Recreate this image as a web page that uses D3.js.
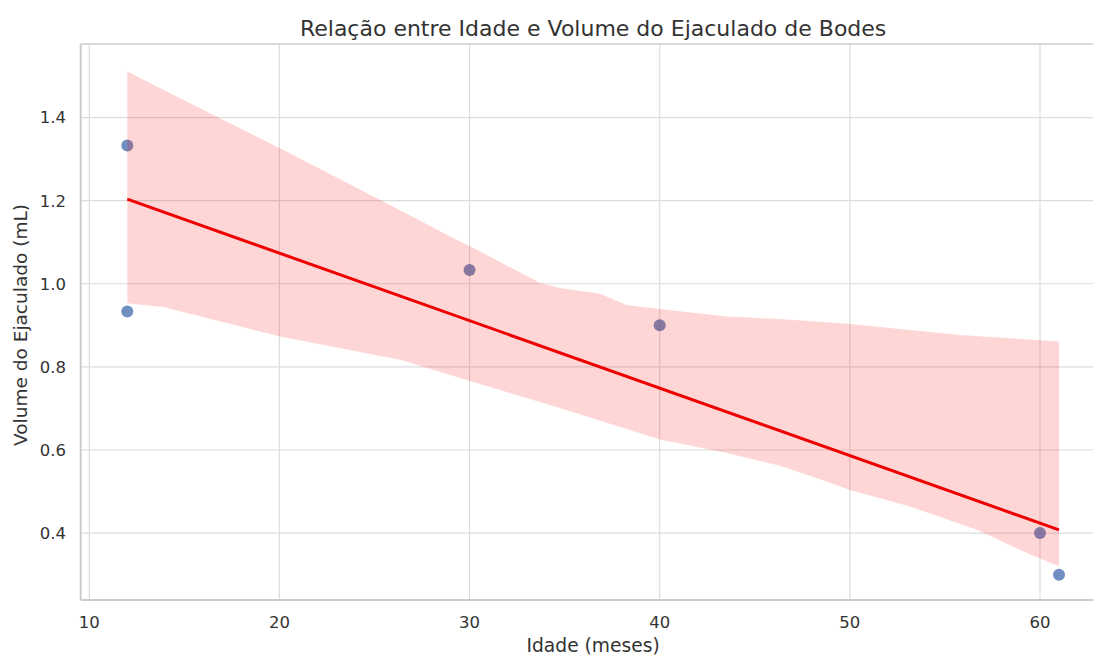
<!DOCTYPE html>
<html>
<head>
<meta charset="utf-8">
<script src="https://cdn.jsdelivr.net/npm/d3@7"></script>
<style>
  html, body { margin: 0; padding: 0; background: #ffffff; }
  svg { display: block; font-family: "DejaVu Sans", sans-serif; }
</style>
</head>
<body>
<svg id="chart" width="1093" height="655"></svg>
<script>
// ---- data ----
const ageMonths = [12, 12, 30, 40, 60, 61];
const volumeML = [1.333, 0.933, 1.033, 0.9, 0.4, 0.3];

// confidence band
const bandUpperX = [12, 14.94, 20.03, 25.46, 29.5, 30.55, 33.7, 34.75, 36.86, 38.26, 40.01, 43.52, 46.33, 50.01, 55.79, 61];
const bandUpperY = [1.511, 1.443, 1.326, 1.198, 1.102, 1.078, 1.002, 0.990, 0.976, 0.949, 0.939, 0.921, 0.915, 0.903, 0.877, 0.861];
const bandLowerX = [12, 13.89, 20.03, 26.34, 29.5, 34.75, 40.01, 43.52, 46.33, 47.9, 50.01, 53.16, 56.67, 59.3, 61];
const bandLowerY = [0.953, 0.944, 0.873, 0.817, 0.773, 0.701, 0.625, 0.593, 0.562, 0.538, 0.504, 0.464, 0.408, 0.352, 0.320];

const xTicks = [10, 20, 30, 40, 50, 60];
const yTicks = [0.4, 0.6, 0.8, 1.0, 1.2, 1.4];

const titleText = "Relação entre Idade e Volume do Ejaculado de Bodes";
const xLabelText = "Idade (meses)";
const yLabelText = "Volume do Ejaculado (mL)";

(function () {
// ---- layout ----
const svg = d3.select("#chart");
const pL = 80.7, pR = 1105.6, pT = 44, pB = 600;

const x = d3.scaleLinear().domain([9.55, 63.45]).range([pL, pR]);
const y = d3.scaleLinear().domain([0.239, 1.577]).range([pB, pT]);

const textColor = "#333333";

// grid
const grid = svg.append("g");
grid.selectAll("line.vx").data(xTicks).enter().append("line")
  .attr("x1", d => x(d)).attr("x2", d => x(d))
  .attr("y1", pT).attr("y2", pB)
  .attr("stroke", "#dcdcdc").attr("stroke-width", 1.2);
grid.selectAll("line.hy").data(yTicks).enter().append("line")
  .attr("x1", pL).attr("x2", pR)
  .attr("y1", d => y(d)).attr("y2", d => y(d))
  .attr("stroke", "#dcdcdc").attr("stroke-width", 1.2);

// points
const pts = ageMonths.map((a, i) => [a, volumeML[i]]);
svg.append("g").selectAll("circle").data(pts).enter().append("circle")
  .attr("cx", d => x(d[0])).attr("cy", d => y(d[1])).attr("r", 6)
  .attr("fill", "#4c72b0").attr("fill-opacity", 0.8);

// band
const upper = bandUpperX.map((v, i) => [v, bandUpperY[i]]);
const lower = bandLowerX.map((v, i) => [v, bandLowerY[i]]);
const poly = upper.concat(lower.slice().reverse());
svg.append("path")
  .attr("d", d3.line().x(d => x(d[0])).y(d => y(d[1]))(poly) + "Z")
  .attr("fill", "#ff0000").attr("fill-opacity", 0.16).attr("stroke", "none");

// regression line (least squares fit of the points)
const mx = d3.mean(ageMonths), my = d3.mean(volumeML);
const sxy = d3.sum(ageMonths.map((a, i) => (a - mx) * (volumeML[i] - my)));
const sxx = d3.sum(ageMonths.map(a => (a - mx) * (a - mx)));
const slope = sxy / sxx, icpt = my - slope * mx;
const xr = d3.extent(ageMonths);
svg.append("path")
  .attr("d", d3.line().x(d => x(d)).y(d => y(icpt + slope * d))(xr))
  .attr("stroke", "#ee0000").attr("stroke-width", 3).attr("fill", "none")
  .attr("stroke-linecap", "butt");

// spines
svg.append("line").attr("x1", pL).attr("x2", pR).attr("y1", pT).attr("y2", pT)
  .attr("stroke", "#cccccc").attr("stroke-width", 1.5);
svg.append("line").attr("x1", pL).attr("x2", pL).attr("y1", pT).attr("y2", pB)
  .attr("stroke", "#cccccc").attr("stroke-width", 2);
svg.append("line").attr("x1", pL).attr("x2", pR).attr("y1", pB).attr("y2", pB)
  .attr("stroke", "#cccccc").attr("stroke-width", 2);

// x tick labels
const fmtX = d3.format("d");
svg.append("g").selectAll("text").data(xTicks).enter().append("text")
  .attr("x", d => x(d)).attr("y", 628)
  .attr("text-anchor", "middle").attr("font-size", 16.5).attr("fill", textColor)
  .text(d => fmtX(d));

// y tick labels
const fmtY = d3.format(".1f");
svg.append("g").selectAll("text").data(yTicks).enter().append("text")
  .attr("x", 66).attr("y", d => y(d)).attr("dy", "0.36em")
  .attr("text-anchor", "end").attr("font-size", 16.5).attr("fill", textColor)
  .text(d => fmtY(d));

// labels
svg.append("text").attr("x", (pL + pR) / 2).attr("y", 652)
  .attr("text-anchor", "middle").attr("font-size", 18.7).attr("fill", textColor)
  .text(xLabelText);
svg.append("text")
  .attr("transform", `translate(27, ${(pT + pB) / 2 + 3}) rotate(-90)`)
  .attr("text-anchor", "middle").attr("font-size", 18.5).attr("fill", textColor)
  .text(yLabelText);
svg.append("text").attr("x", (pL + pR) / 2).attr("y", 35.5)
  .attr("text-anchor", "middle").attr("font-size", 22).attr("fill", textColor)
  .text(titleText);
})();
</script>
</body>
</html>
